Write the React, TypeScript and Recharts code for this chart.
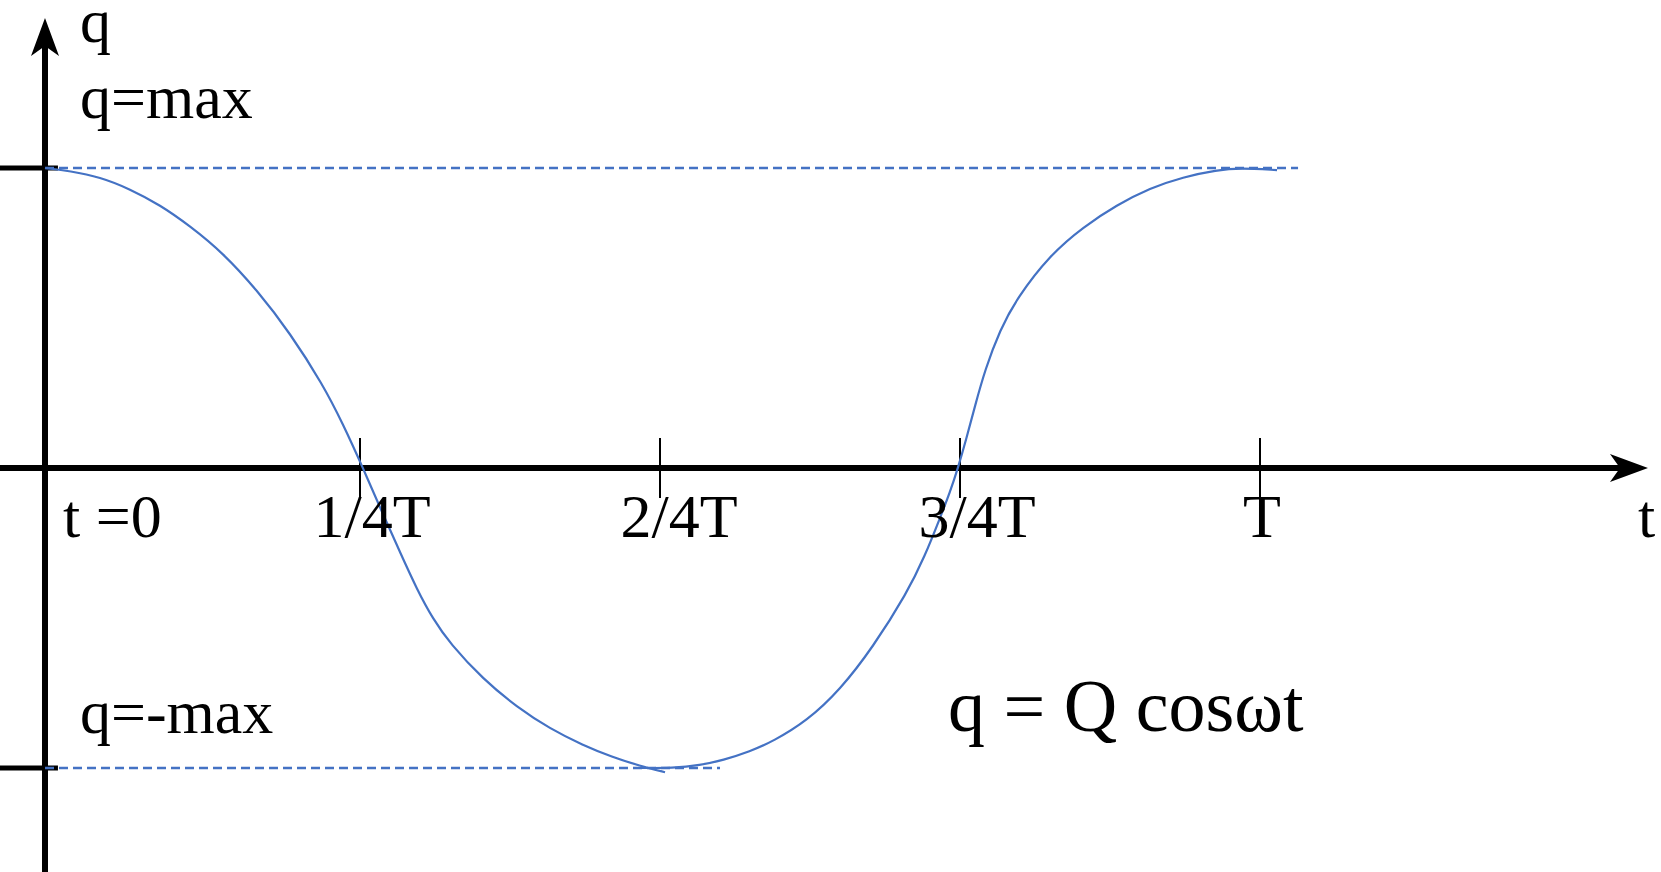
import React from 'react';
import { LineChart, Line, XAxis, YAxis, ReferenceLine, ReferenceDot } from 'recharts';

// q(t) read in units of Q, t in units of the period T
const FALLING = [
  { t: -0.0125, q: 1.0 },
  { t: 0.0083, q: 0.99 },
  { t: 0.0333, q: 0.97 },
  { t: 0.0583, q: 0.93 },
  { t: 0.0833, q: 0.877 },
  { t: 0.1083, q: 0.807 },
  { t: 0.1358, q: 0.717 },
  { t: 0.1642, q: 0.593 },
  { t: 0.1917, q: 0.45 },
  { t: 0.2192, q: 0.277 },
  { t: 0.2358, q: 0.147 },
  { t: 0.2525, q: 0.0 },
  { t: 0.2692, q: -0.155 },
  { t: 0.2833, q: -0.28 },
  { t: 0.2975, q: -0.405 },
  { t: 0.3108, q: -0.503 },
  { t: 0.325, q: -0.585 },
  { t: 0.3525, q: -0.704 },
  { t: 0.3808, q: -0.797 },
  { t: 0.4083, q: -0.869 },
  { t: 0.4358, q: -0.924 },
  { t: 0.46, q: -0.963 },
  { t: 0.4833, q: -0.993 },
  { t: 0.5042, q: -1.014 },
];

const RISING = [
  { t: 0.4833, q: -1.0 },
  { t: 0.5108, q: -1.0 },
  { t: 0.5333, q: -0.991 },
  { t: 0.5525, q: -0.974 },
  { t: 0.575, q: -0.945 },
  { t: 0.5942, q: -0.911 },
  { t: 0.6225, q: -0.843 },
  { t: 0.65, q: -0.74 },
  { t: 0.6775, q: -0.597 },
  { t: 0.7058, q: -0.417 },
  { t: 0.7208, q: -0.293 },
  { t: 0.7333, q: -0.167 },
  { t: 0.7417, q: -0.08 },
  { t: 0.7483, q: 0.0 },
  { t: 0.755, q: 0.093 },
  { t: 0.7625, q: 0.207 },
  { t: 0.7708, q: 0.327 },
  { t: 0.7833, q: 0.46 },
  { t: 0.7975, q: 0.567 },
  { t: 0.825, q: 0.71 },
  { t: 0.8525, q: 0.803 },
  { t: 0.8808, q: 0.877 },
  { t: 0.9083, q: 0.933 },
  { t: 0.9358, q: 0.97 },
  { t: 0.9642, q: 0.993 },
  { t: 0.9833, q: 1.0 },
  { t: 1.0142, q: 0.993 },
];

const TICKS = [0.25, 0.5, 0.75, 1];
const TICK_LABELS = ['1/4T', '2/4T', '3/4T', 'T'];

const W = 1661;
const H = 872;
const BLUE = '#4472C4';
const FONT = '"Liberation Serif", "Times New Roman", serif';
const T_DOMAIN: [number, number] = [-0.05, 1.334167];
const Q_DOMAIN: [number, number] = [-1.346667, 1.56];
const Q_AXIS_T = -0.0125;
const T_ARROW = 1.32333;
const Q_ARROW = 1.5;

// label x-nudges so the text sits where it was set beside each tick
const TICK_NUDGE = [12, 19, 17, 2];

const textShape =
  (text: string, dx: number, dy: number, size = 62, anchor: 'start' | 'middle' = 'start') =>
  (p: any) => (
    <text
      x={p.cx + dx}
      y={p.cy + dy}
      fontSize={size}
      fontFamily={FONT}
      fill="#000"
      textAnchor={anchor}
    >
      {text}
    </text>
  );

const upArrow = (p: any) => (
  <path
    d={`M${p.cx},${p.cy} L${p.cx + 14},${p.cy + 38} L${p.cx},${p.cy + 28} L${p.cx - 14},${p.cy + 38} Z`}
    fill="#000"
  />
);

const rightArrow = (p: any) => (
  <path
    d={`M${p.cx},${p.cy} L${p.cx - 38},${p.cy - 14} L${p.cx - 28},${p.cy} L${p.cx - 38},${p.cy + 14} Z`}
    fill="#000"
  />
);

// B-spline keeps the hand-read points from showing as kinks
const curveProps = {
  dataKey: 'q',
  type: 'basis' as const,
  stroke: BLUE,
  strokeWidth: 2.2,
  dot: false,
  activeDot: false,
  isAnimationActive: false,
};

export default function App() {
  return (
    <div style={{ position: 'absolute', left: 0, top: 0, width: W, height: H, background: '#fff' }}>
      <LineChart width={W} height={H} margin={{ top: 0, right: 0, bottom: 0, left: 0 }}>
        <XAxis type="number" dataKey="t" domain={T_DOMAIN} allowDataOverflow hide />
        <YAxis type="number" dataKey="q" domain={Q_DOMAIN} allowDataOverflow hide />

        {/* q axis */}
        <ReferenceLine
          segment={[{ x: Q_AXIS_T, y: Q_DOMAIN[0] }, { x: Q_AXIS_T, y: Q_ARROW - 0.08 }]}
          stroke="#000"
          strokeWidth={6}
          ifOverflow="visible"
        />
        <ReferenceDot x={Q_AXIS_T} y={Q_ARROW} shape={upArrow} ifOverflow="visible" />

        {/* t axis */}
        <ReferenceLine
          segment={[{ x: T_DOMAIN[0], y: 0 }, { x: T_ARROW - 0.022, y: 0 }]}
          stroke="#000"
          strokeWidth={6}
          ifOverflow="visible"
        />
        <ReferenceDot x={T_ARROW} y={0} shape={rightArrow} ifOverflow="visible" />

        {/* ±max marks on the q axis */}
        {[1, -1].map((v) => (
          <ReferenceLine
            key={`m${v}`}
            segment={[{ x: T_DOMAIN[0], y: v }, { x: -0.0017, y: v }]}
            stroke="#000"
            strokeWidth={5}
            ifOverflow="visible"
          />
        ))}

        {/* dashed guides at q = ±max */}
        <ReferenceLine
          segment={[{ x: Q_AXIS_T, y: 1 }, { x: 1.0317, y: 1 }]}
          stroke={BLUE}
          strokeWidth={2.5}
          strokeDasharray="9 5"
          ifOverflow="visible"
        />
        <ReferenceLine
          segment={[{ x: Q_AXIS_T, y: -1 }, { x: 0.55, y: -1 }]}
          stroke={BLUE}
          strokeWidth={2.5}
          strokeDasharray="9 5"
          ifOverflow="visible"
        />

        {/* quarter-period ticks */}
        {TICKS.map((t) => (
          <ReferenceLine
            key={`tk${t}`}
            segment={[{ x: t, y: -0.1 }, { x: t, y: 0.1 }]}
            stroke="#000"
            strokeWidth={2}
            ifOverflow="visible"
          />
        ))}

        <Line data={FALLING} {...curveProps} />
        <Line data={RISING} {...curveProps} />

        {/* text */}
        <ReferenceDot x={Q_AXIS_T} y={Q_ARROW} shape={textShape('q', 35, 24)} ifOverflow="visible" />
        <ReferenceDot x={Q_AXIS_T} y={1} shape={textShape('q=max', 35, -50)} ifOverflow="visible" />
        <ReferenceDot x={Q_AXIS_T} y={-1} shape={textShape('q=-max', 35, -35)} ifOverflow="visible" />
        <ReferenceDot x={0} y={0} shape={textShape('t =0', 3, 69)} ifOverflow="visible" />
        {TICKS.map((t, i) => (
          <ReferenceDot
            key={`lb${t}`}
            x={t}
            y={0}
            shape={textShape(TICK_LABELS[i], TICK_NUDGE[i], 69, 62, 'middle')}
            ifOverflow="visible"
          />
        ))}
        <ReferenceDot x={T_ARROW} y={0} shape={textShape('t', -10, 69)} ifOverflow="visible" />
        <ReferenceDot x={0.75} y={-1} shape={textShape('q = Q cosωt', -12, -37, 74)} ifOverflow="visible" />
      </LineChart>
    </div>
  );
}
